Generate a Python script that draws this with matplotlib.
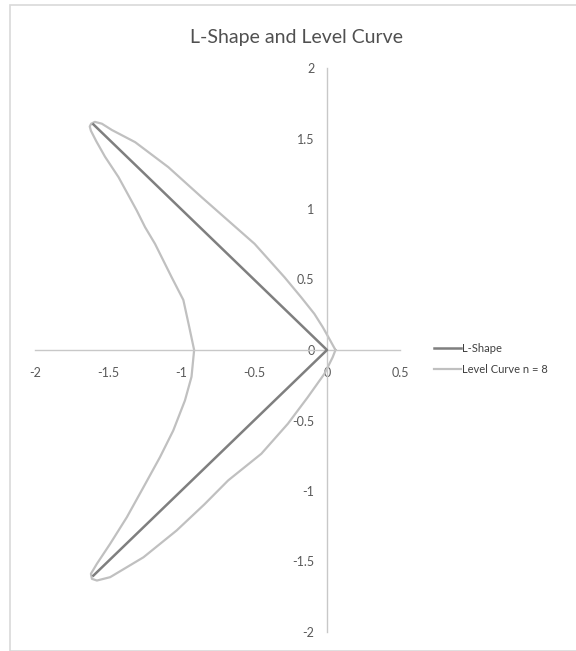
import matplotlib
matplotlib.use('Agg')
import matplotlib.pyplot as plt
from matplotlib.patches import Rectangle

plt.rcParams['font.family'] = ['Lato', 'DejaVu Sans']

# L-shape (two segments meeting at the origin)
lshape_x = [-1.6, 0.0, -1.6]
lshape_y = [1.6, 0.0, -1.6]

# level curve n = 8 (closed loop)
curve_x = [0.058, 0.016, -0.029, -0.087, -0.177, -0.291, -0.496, -0.677, -0.859,
           -1.087, -1.314, -1.473, -1.542, -1.590, -1.615, -1.625,
           -1.617, -1.580, -1.520, -1.428, -1.303, -1.246, -1.178, -1.064, -0.984,
           -0.945, -0.910,
           -0.928, -0.973, -1.053, -1.144, -1.257, -1.371, -1.485, -1.576, -1.617,
           -1.610, -1.576,
           -1.485, -1.257, -1.030, -0.840, -0.677, -0.450, -0.268, -0.132, -0.018,
           0.039, 0.058]
curve_y = [0.0, 0.079, 0.162, 0.257, 0.374, 0.516, 0.753, 0.918, 1.084,
           1.297, 1.474, 1.560, 1.605, 1.618, 1.605, 1.585,
           1.555, 1.480, 1.370, 1.226, 0.989, 0.871, 0.753, 0.516, 0.355,
           0.170, 0.0,
           -0.190, -0.358, -0.571, -0.760, -0.973, -1.186, -1.374, -1.516, -1.587,
           -1.623, -1.635,
           -1.611, -1.470, -1.280, -1.095, -0.925, -0.736, -0.523, -0.335, -0.169,
           -0.051, 0.0]

x_ticks = [-2, -1.5, -1, -0.5, 0, 0.5]
y_ticks = [-2, -1.5, -1, -0.5, 0, 0.5, 1, 1.5, 2]

fig = plt.figure(figsize=(5.76, 6.51), dpi=100)
ax = fig.add_axes([35 / 576, 1 - 632 / 651, 365 / 576, 564 / 651])

ax.plot(lshape_x, lshape_y, color='#7f7f7f', linewidth=1.8, label='L-Shape', zorder=3)
ax.plot(curve_x, curve_y, color='#c0c0c0', linewidth=1.6, label='Level Curve n = 8',
        zorder=2)

ax.set_xlim(-2, 0.5)
ax.set_ylim(-2, 2)

# axes cross at the origin, excel style
for side in ['top', 'right']:
    ax.spines[side].set_visible(False)
ax.spines['left'].set_position('zero')
ax.spines['bottom'].set_position('zero')
for side in ['left', 'bottom']:
    ax.spines[side].set_color('#c8c8c8')
    ax.spines[side].set_linewidth(1.0)

ax.set_xticks(x_ticks)
ax.set_xticklabels([f'{t:g}' for t in x_ticks])
ax.set_yticks(y_ticks)
ax.set_yticklabels([f'{t:g}' for t in y_ticks])
ax.tick_params(axis='both', length=0, colors='#595959', labelsize=9)
ax.tick_params(axis='x', pad=12)
ax.tick_params(axis='y', pad=9)

fig.text(297 / 576, 1 - 38 / 651, 'L-Shape and Level Curve', ha='center', va='center',
         fontsize=14, color='#505050')

fig.legend(loc='center left', bbox_to_anchor=(424 / 576, 1 - 359 / 651), frameon=False,
           fontsize=8, handlelength=2.4, handletextpad=0.1, labelspacing=0.95,
           labelcolor='#404040')

# chart border
fig.patches.append(Rectangle((10 / 576, 0.5 / 651), 1.0, 1 - 5 / 651,
                             transform=fig.transFigure, fill=False,
                             edgecolor='#d9d9d9', linewidth=1.2))

fig.savefig('out.png', dpi=100)
